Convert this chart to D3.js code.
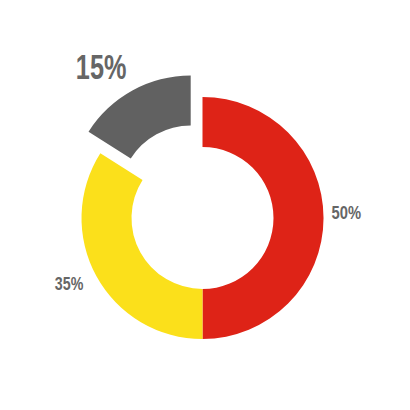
<!DOCTYPE html>
<html>
<head>
<meta charset="utf-8">
<script src="https://cdn.jsdelivr.net/npm/d3@7"></script>
<style>
  html, body { margin: 0; padding: 0; background: #fff; }
  svg { display: block; }
  text { font-family: "Liberation Sans", Arial, sans-serif; font-weight: bold; fill: #666666; }
</style>
</head>
<body>
<svg id="chart" width="410" height="410"></svg>
<script>
// Data
const categories = ["A", "B", "C"];
const values = [50, 34, 16];            // drawn shares
const labels = ["50%", "35%", "15%"];   // printed labels
const colors = ["#de2317", "#fbe01b", "#616161"];
const exploded = [false, false, true];

const cx = 202.5, cy = 218;
const outerR = 121, innerR = 71;
const explodeDist = 24.5;

// label layout (condensed look via textLength)
const layout = {
  0: { r: 129, dx: 0, dy: 1.3, size: 19, width: 29.5 },
  1: { r: 136, dx: 0, dy: 6.8, size: 19, width: 28.5 },
  2: { r: 146, dx: 6, dy: 10.4, size: 35, width: 50.5 }
};

const svg = d3.select("#chart");
const g = svg.append("g").attr("transform", `translate(${cx},${cy})`);

const pie = d3.pie().sort(null).value(d => d.v);
const data = categories.map((c, i) => ({ c, v: values[i], label: labels[i], color: colors[i], ex: exploded[i] }));
const arcs = pie(data);

const arc = d3.arc().innerRadius(innerR).outerRadius(outerR);
const mid = d => (d.startAngle + d.endAngle) / 2;

function offset(d) {
  if (!d.data.ex) return [0, 0];
  const a = mid(d);
  return [Math.sin(a) * explodeDist, -Math.cos(a) * explodeDist];
}

const slices = g.selectAll("g.slice").data(arcs).join("g")
  .attr("class", "slice")
  .attr("transform", d => { const o = offset(d); return `translate(${o[0]},${o[1]})`; });

slices.append("path")
  .attr("d", arc)
  .attr("fill", d => d.data.color);

slices.append("text")
  .attr("text-anchor", d => Math.sin(mid(d)) >= 0 ? "start" : "end")
  .attr("font-size", d => layout[d.index].size)
  .attr("textLength", d => layout[d.index].width)
  .attr("lengthAdjust", "spacingAndGlyphs")
  .attr("x", d => Math.sin(mid(d)) * layout[d.index].r + layout[d.index].dx)
  .attr("y", d => -Math.cos(mid(d)) * layout[d.index].r + layout[d.index].dy)
  .text(d => d.data.label);
</script>
</body>
</html>
